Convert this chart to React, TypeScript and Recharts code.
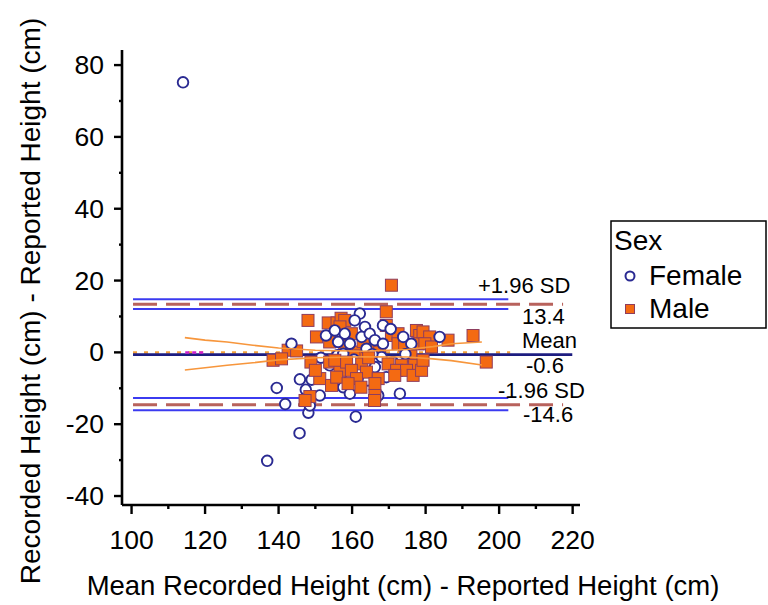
import { ReferenceLine, Scatter, ScatterChart, XAxis, YAxis } from "recharts";

// Bland-Altman style plot: recorded vs reported height
const femaleX = [114.0, 136.9, 145.7, 148.1, 139.5, 141.8, 161.0, 143.5, 145.8, 149.0, 147.4, 151.2, 152.9, 153.9, 156.0, 155.3, 162.1, 160.7, 168.4, 163.5, 158.0, 162.6, 164.8, 166.2, 159.4, 156.2, 168.4, 163.9, 157.6, 168.0, 171.1, 166.2, 157.1, 169.3, 164.3, 157.6, 159.4, 167.1, 173.0, 173.9, 176.1, 183.8, 148.5, 151.5, 160.5, 170.5, 165.5, 174.5];
const femaleY = [75.2, -30.2, -22.5, -16.8, -9.9, -14.4, -17.9, 2.4, -7.5, -7.6, -10.4, -12.0, 4.7, -3.6, -0.8, 6.1, 10.8, 8.9, 7.5, 7.1, 5.2, 4.3, 5.2, 3.4, 2.4, 2.9, 2.4, 1.0, -0.4, -1.3, -2.7, -4.1, -6.0, -6.9, -7.8, -9.7, -11.5, -12.0, -11.5, 4.3, 2.4, 4.3, -14.8, -1.5, -2.0, 6.5, -0.5, -0.5];

const maleX = [170.7, 148.0, 153.5, 155.9, 150.3, 153.9, 142.6, 144.9, 138.5, 140.8, 148.8, 153.9, 151.2, 154.4, 148.5, 156.7, 169.3, 157.0, 158.0, 156.7, 159.8, 169.3, 170.7, 172.5, 177.5, 178.4, 177.9, 172.5, 174.3, 158.0, 165.3, 161.6, 167.5, 155.3, 158.5, 162.6, 169.8, 173.4, 177.0, 159.8, 163.9, 172.1, 174.8, 161.2, 167.1, 171.6, 155.8, 158.9, 166.2, 162.4, 166.2, 176.6, 178.9, 179.3, 181.1, 179.8, 186.1, 192.9, 179.3, 196.5, 181.6, 147.2, 166.1, 164.5, 160.5, 176.0, 150.0, 163.0];
const maleY = [18.7, 8.9, 8.2, 8.2, 4.3, 2.9, 0.6, 0.4, -2.2, -1.8, -2.7, -2.7, -7.3, -9.2, -12.3, -5.0, 11.3, 9.5, 8.9, 7.1, 5.2, 7.5, 4.7, 5.2, 6.1, 4.7, 2.4, 2.4, 2.0, 2.4, 2.0, 0.1, 0.1, -2.2, -2.7, -3.2, -3.2, -3.6, -3.6, -5.0, -5.5, -5.0, -5.0, -7.3, -7.3, -6.4, -6.9, -8.7, -8.7, -9.7, -12.0, -6.4, -5.0, 5.7, 4.3, 2.4, 3.4, 4.7, -2.2, -2.7, 1.5, -13.4, -13.4, -1.5, -1.0, -1.0, -5.0, 3.0];

// limits of agreement (mean, +1.96 SD, -1.96 SD) and their confidence bounds
const meanDiff = -0.6;
const upperLimit = 13.4;
const lowerLimit = -14.6;
const upperLimitCI = [14.8, 12.1];
const lowerLimitCI = [-12.7, -16.1];

// regression confidence band
const regX = [114.5, 120, 126, 133, 140, 150, 163, 175, 182, 187, 195.3];
const regUpper = [4.1, 3.4, 2.9, 2.0, 1.2, 0.6, 0.3, 0.8, 1.6, 2.4, 2.9];
const regLower = [-4.9, -4.3, -3.6, -2.9, -2.1, -1.5, -1.2, -1.3, -1.8, -2.3, -3.5];

const xTicks = [100, 110, 120, 130, 140, 150, 160, 170, 180, 190, 200, 210, 220];
const yTicks = [-40, -30, -20, -10, 0, 10, 20, 30, 40, 50, 60, 70, 80];

const font = "'Liberation Sans', Arial, sans-serif";

const female = femaleX.map((x, i) => ({ x, y: femaleY[i] }));
const male = maleX.map((x, i) => ({ x, y: maleY[i] }));
// draw order: lower male squares sit on top of the circles, upper ones beneath
const maleUnder = male.filter((d) => d.y >= -1);
const maleOver = male.filter((d) => d.y < -1);
const regUp = regX.map((x, i) => ({ x, y: regUpper[i] }));
const regLo = regX.map((x, i) => ({ x, y: regLower[i] }));

const lineStart = 100.4;
const ciEnd = 202.5;
const zeroEnd = 203;
const dashEnd = 217.4;
const meanEnd = 219.9;

function XTick(props: any) {
  const { x, y, payload } = props;
  const major = payload.value % 20 === 0;
  return (
    <g>
      <line x1={x} x2={x} y1={y} y2={y + (major ? 9 : 4)} stroke="#000" strokeWidth={2.4} />
      {major && (
        <text x={x} y={y + 44} textAnchor="middle" fontSize={26.5} fontFamily={font} fill="#000">
          {payload.value}
        </text>
      )}
    </g>
  );
}

function YTick(props: any) {
  const { x, y, payload } = props;
  const major = payload.value % 20 === 0;
  return (
    <g>
      <line x1={x} x2={x - (major ? 8 : 3)} y1={y} y2={y} stroke="#000" strokeWidth={2.4} />
      {major && (
        <text x={x - 18} y={y + 9} textAnchor="end" fontSize={26.5} fontFamily={font} fill="#000">
          {payload.value}
        </text>
      )}
    </g>
  );
}

const FemaleDot = (p: any) => (
  <circle cx={p.cx} cy={p.cy} r={5.3} fill="#fff" stroke="#2a2a92" strokeWidth={1.9} />
);
const MaleSquare = (p: any) => (
  <rect x={p.cx - 6} y={p.cy - 6} width={12} height={12} fill="#f46a12" stroke="#8e3d5e" strokeWidth={1} />
);
const NoDot = () => <g />;

export default function App() {
  return (
    <div style={{ position: "absolute", left: 0, top: 0, width: 768, height: 605, background: "#fff" }}>
      <ScatterChart width={768} height={605} margin={{ top: 50, right: 188, bottom: 40, left: 0 }}>
        <XAxis
          type="number"
          dataKey="x"
          domain={[97.4, 222]}
          ticks={xTicks}
          allowDataOverflow
          height={60}
          tickSize={0}
          tickMargin={0}
          tick={<XTick />}
          axisLine={{ stroke: "#000", strokeWidth: 2.6 }}
          interval={0}
        />
        <YAxis
          type="number"
          dataKey="y"
          domain={[-42.5, 84.2]}
          ticks={yTicks}
          allowDataOverflow
          width={122}
          tickSize={0}
          tickMargin={0}
          tick={<YTick />}
          axisLine={{ stroke: "#000", strokeWidth: 2.6 }}
          interval={0}
        />
        <Scatter data={maleUnder} shape={MaleSquare} isAnimationActive={false} />
        <Scatter data={female} shape={FemaleDot} isAnimationActive={false} />
        <Scatter data={maleOver} shape={MaleSquare} isAnimationActive={false} />
        <Scatter data={regUp} shape={NoDot} line={{ stroke: "#f7963c", strokeWidth: 1.6 }} lineType="joint" isAnimationActive={false} />
        <Scatter data={regLo} shape={NoDot} line={{ stroke: "#f7963c", strokeWidth: 1.6 }} lineType="joint" isAnimationActive={false} />

        {upperLimitCI.concat(lowerLimitCI).map((v, i) => (
          <ReferenceLine key={"ci" + i} segment={[{ x: lineStart, y: v }, { x: ciEnd, y: v }]} stroke="#3b3bf0" strokeWidth={2} ifOverflow="visible" />
        ))}
        {[upperLimit, lowerLimit].map((v, i) => (
          <ReferenceLine key={"sd" + i} segment={[{ x: lineStart, y: v }, { x: dashEnd, y: v }]} stroke="#b8625c" strokeWidth={3} strokeDasharray="24 9" ifOverflow="visible" />
        ))}
        <ReferenceLine segment={[{ x: lineStart, y: 0 }, { x: zeroEnd, y: 0 }]} stroke="#f2a03a" strokeWidth={2.5} strokeDasharray="4 7" ifOverflow="visible" />
        <ReferenceLine segment={[{ x: lineStart, y: meanDiff }, { x: meanEnd, y: meanDiff }]} stroke="#1d1d80" strokeWidth={2.8} ifOverflow="visible" />
        <ReferenceLine segment={[{ x: 114.6, y: 0 }, { x: 120, y: 0 }]} stroke="#d020d0" strokeWidth={2.5} strokeDasharray="4 3" ifOverflow="visible" />
      </ScatterChart>

      <svg width={768} height={605} style={{ position: "absolute", left: 0, top: 0, pointerEvents: "none" }} fontFamily={font}>
        <g fontSize={22} fill="#000">
          <text x={478} y={293}>+1.96 SD</text>
          <text x={522} y={324}>{upperLimit.toFixed(1)}</text>
          <text x={522} y={348}>Mean</text>
          <text x={526} y={373}>{meanDiff.toFixed(1)}</text>
          <text x={498} y={398}>-1.96 SD</text>
          <text x={523} y={422}>{lowerLimit.toFixed(1)}</text>
        </g>

        <rect x={611} y={221} width={155} height={107} fill="#fff" stroke="#000" strokeWidth={1.5} />
        <text x={614} y={250} fontSize={28} fill="#000">Sex</text>
        <circle cx={630} cy={276} r={4.5} fill="#fff" stroke="#2a2a92" strokeWidth={2} />
        <text x={649} y={285} fontSize={28} fill="#000">Female</text>
        <rect x={625.5} y={304.5} width={9} height={9} fill="#f46a12" stroke="#8e3d5e" strokeWidth={1} />
        <text x={649} y={318} fontSize={28} fill="#000">Male</text>

        <text x={403} y={595} fontSize={27.5} textAnchor="middle" fill="#000">
          Mean Recorded Height (cm) - Reported Height (cm)
        </text>
        <text transform="translate(40,301) rotate(-90)" fontSize={28} textAnchor="middle" fill="#000">
          Recorded Height (cm) - Reported Height (cm)
        </text>
      </svg>
    </div>
  );
}
